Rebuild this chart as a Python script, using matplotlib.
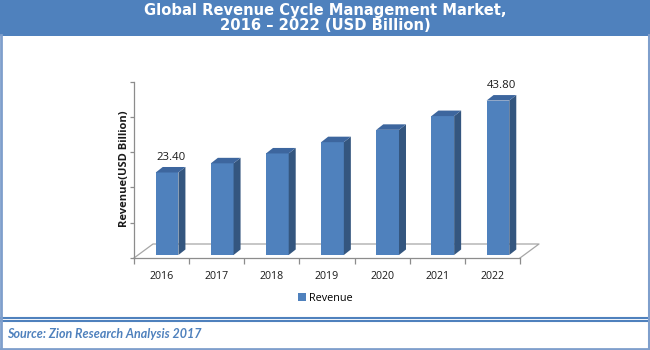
import matplotlib
matplotlib.use("Agg")
import matplotlib.pyplot as plt
from matplotlib.patches import Polygon, Rectangle, Patch
from matplotlib.lines import Line2D

# ---- data ----
years = ["2016", "2017", "2018", "2019", "2020", "2021", "2022"]
revenue = [23.40, 26.0, 28.8, 32.0, 35.5, 39.4, 43.80]
labelled = [0, 6]          # bars that carry a value label
series_name = "Revenue"
title_lines = ["Global Revenue Cycle Management Market,", "2016 \u2013 2022 (USD Billion)"]
y_title = "Revenue(USD Billion)"
source = "Source: Zion Research Analysis 2017"
y_ticks = [0, 10, 20, 30, 40, 50]

# ---- style ----
BLUE = "#4F81BD"
SIDE = "#34567F"
TOP = "#3D669E"
AX_GREY = "#8C8C8C"
FLOOR_GREY = "#A6A6A6"
W, H = 650, 350

fig = plt.figure(figsize=(6.5, 3.5), dpi=100)
fig.patch.set_facecolor("white")

def fx(px):
    return px / W

def fy(py):
    return 1 - py / H

# title band
fig.patches.append(Rectangle((0, fy(35.5)), 1, 35.5 / H, transform=fig.transFigure,
                             facecolor=BLUE, edgecolor="none", zorder=0))
fig.text(0.5, fy(10.5), title_lines[0], ha="center", va="center", color="white",
         fontsize=10.6, fontweight="bold", family="DejaVu Sans")
fig.text(0.5, fy(25), title_lines[1], ha="center", va="center", color="white",
         fontsize=10.6, fontweight="bold", family="DejaVu Sans")

# frames
def hline(y, x0=0, x1=W, lw=1.5, c=BLUE):
    fig.lines.append(Line2D([fx(x0), fx(x1)], [fy(y), fy(y)], transform=fig.transFigure,
                            color=c, lw=lw))

def vline(x, y0=0, y1=H, lw=1.5, c=BLUE):
    fig.lines.append(Line2D([fx(x), fx(x)], [fy(y0), fy(y1)], transform=fig.transFigure,
                            color=c, lw=lw))

hline(318.3)
hline(321.0)
hline(349.2, lw=2, c="#7F9FCC")
vline(0.8, 35, 350, lw=2, c="#7F9FCC")
vline(648.6, 35, 350, lw=2.2, c="#7F9FCC")

# ---- axes ----
ax = fig.add_axes([fx(134), fy(258), fx(520) - fx(134), fy(81.7) - fy(258)])
ax.set_facecolor("none")
ax.set_xlim(-0.5, len(years) - 0.5)
ax.set_ylim(y_ticks[0], y_ticks[-1])
for s in ["top", "right"]:
    ax.spines[s].set_visible(False)
for s in ["left", "bottom"]:
    ax.spines[s].set_color(AX_GREY)
    ax.spines[s].set_linewidth(0.9)

ax.set_yticks(y_ticks)
ax.set_yticklabels([])
ax.tick_params(axis="y", length=3, color=AX_GREY, width=0.9)
ax.set_xticks(range(len(years)))
ax.set_xticklabels(years, family="Open Sans", fontsize=7.7, color="#1a1a1a")
ax.tick_params(axis="x", which="major", length=0, pad=9.5)
ax.set_xticks([i - 0.5 for i in range(len(years) + 1)], minor=True)
ax.tick_params(axis="x", which="minor", length=4, color=AX_GREY, width=0.9)

# pixel scales of the axes (px per data unit)
px_x = (520 - 134) / len(years)
px_y = (258 - 81.7) / (y_ticks[-1] - y_ticks[0])

# floor (3D depth)
fdx, fdy = 19 / px_x, 14 / px_y
x0f, x1f = -0.5, len(years) - 0.5
ax.plot([x0f, x0f + fdx, x1f + fdx, x1f], [0, fdy, fdy, 0], color=FLOOR_GREY,
        lw=0.9, clip_on=False, zorder=1)

# bars
bw = 22.7 / px_x
shift_x = 5.5 / px_x
base = 3.0 / px_y
ddx, ddy = 7.0 / px_x, 5.5 / px_y
xs = [i + shift_x for i in range(len(years))]
ax.bar(xs, revenue, width=bw, bottom=base, color=BLUE, edgecolor="none",
       label=series_name, zorder=3, clip_on=False)
for x, v in zip(xs, revenue):
    l, r = x - bw / 2, x + bw / 2
    t = base + v
    ax.add_patch(Polygon([(r, base), (r + ddx, base + ddy), (r + ddx, t + ddy), (r, t)],
                         closed=True, facecolor=SIDE, edgecolor="none", zorder=3, clip_on=False))
    ax.add_patch(Polygon([(l, t), (r, t), (r + ddx, t + ddy), (l + ddx, t + ddy)],
                         closed=True, facecolor=TOP, edgecolor="none", zorder=3, clip_on=False))

for i in labelled:
    ax.annotate(f"{revenue[i]:.2f}", (xs[i] + ddx / 2, base + revenue[i] + ddy),
                xytext=(0, 3), textcoords="offset points", ha="center", va="bottom",
                fontsize=8.2, family="Open Sans", color="#1a1a1a", annotation_clip=False)

fig.text(fx(125), fy(169), y_title, rotation=90, ha="center", va="center",
         fontsize=8, fontweight="bold", family="Open Sans", color="#1a1a1a")

fig.legend(handles=[Patch(facecolor=BLUE, edgecolor="none", label=series_name)],
           loc="center", bbox_to_anchor=(fx(325), fy(298.5)), frameon=False,
           prop={"family": "Open Sans", "size": 7.8},
           handlelength=0.75, handleheight=0.75, handletextpad=0.3)

fig.text(fx(7), fy(334.5), source, ha="left", va="center", color=BLUE,
         fontsize=9, style="italic", fontweight="bold", family="Lato")

fig.savefig("out.png", dpi=100)
